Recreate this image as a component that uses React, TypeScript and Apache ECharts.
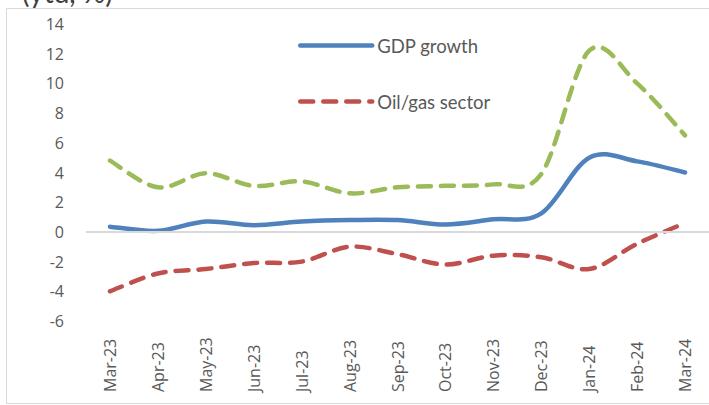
import React, { useEffect, useRef } from "react";
import * as echarts from "echarts";

const categories = ["Mar-23","Apr-23","May-23","Jun-23","Jul-23","Aug-23","Sep-23","Oct-23","Nov-23","Dec-23","Jan-24","Feb-24","Mar-24"];
const gdpGrowth = [0.35, 0.07, 0.7, 0.45, 0.7, 0.8, 0.8, 0.5, 0.85, 1.25, 5.0, 4.75, 4.0];
const oilGas = [-4.0, -2.8, -2.5, -2.1, -2.0, -1.0, -1.5, -2.2, -1.6, -1.7, -2.5, -0.8, 0.6];
const nonOil = [4.8, 3.0, 3.95, 3.1, 3.4, 2.6, 3.0, 3.1, 3.2, 3.9, 12.2, 10.0, 6.5];
const yTicks = { min: -6, max: 14, interval: 2 };

const COLORS = { gdp: "#4F81BD", oil: "#C0504D", nonOil: "#9BBB59" };
const DASH = [13, 10];

// Excel-like smoothed curve (Catmull-Rom through the data points), positioned by the chart's own axes
function smoothSeries(name: string, values: number[], color: string, dashed: boolean) {
  return {
    name: name + " (curve)",
    type: "custom",
    data: values.map((v, i) => [i, v]),
    z: 3,
    silent: true,
    renderItem: (params: any, api: any) => {
      if (params.dataIndex !== 0) return null;
      const pts = values.map((v, i) => api.coord([i, v]));
      let d = `M${pts[0][0]},${pts[0][1]}`;
      for (let i = 0; i < pts.length - 1; i++) {
        const p0 = pts[i - 1] || pts[i];
        const p1 = pts[i];
        const p2 = pts[i + 1];
        const p3 = pts[i + 2] || pts[i + 1];
        const c1x = p1[0] + (p2[0] - p0[0]) / 6;
        const c1y = p1[1] + (p2[1] - p0[1]) / 6;
        const c2x = p2[0] - (p3[0] - p1[0]) / 6;
        const c2y = p2[1] - (p3[1] - p1[1]) / 6;
        d += ` C${c1x},${c1y} ${c2x},${c2y} ${p2[0]},${p2[1]}`;
      }
      return {
        type: "path",
        shape: { pathData: d },
        style: {
          fill: "none",
          stroke: color,
          lineWidth: 4.5,
          lineCap: "round",
          lineJoin: "round",
          lineDash: dashed ? DASH : null,
        },
      };
    },
  };
}

export default function App() {
  const ref = useRef<HTMLDivElement>(null);
  useEffect(() => {
    if (!ref.current) return;
    const chart = echarts.init(ref.current, undefined, { renderer: "svg" });
    const txt = "#595959";
    const legendLine = (name: string, values: number[], color: string, dashed: boolean, extra: any = {}) => ({
      name,
      type: "line",
      data: values,
      symbol: "none",
      silent: true,
      z: 1,
      lineStyle: { color, width: 4.5, opacity: 0, type: dashed ? DASH : "solid", cap: "round" },
      itemStyle: { color },
      ...extra,
    });
    chart.setOption({
      animation: false,
      backgroundColor: "#ffffff",
      grid: { left: 86, top: 24, width: 630, height: 297, containLabel: false },
      legend: {
        data: ["GDP growth", "Oil/gas sector"],
        orient: "vertical",
        left: 298,
        top: 36,
        padding: 0,
        itemWidth: 72,
        itemHeight: 20,
        itemGap: 37,
        itemStyle: { opacity: 0 },
        lineStyle: { width: 4.5, opacity: 1 },
        textStyle: { color: txt, fontSize: 18.5, fontFamily: "Lato" },
      },
      graphic: [
        {
          type: "rect",
          shape: { x: 6.5, y: 8.5, width: 720, height: 395 },
          style: { fill: "none", stroke: "#d9d9d9", lineWidth: 1 },
          silent: true,
        },
        {
          type: "text",
          left: 22,
          top: -22,
          style: { text: "(ytd, %)", fontSize: 28, fontFamily: "Lato", fill: "#404040" },
        },
      ],
      xAxis: {
        type: "category",
        data: categories,
        boundaryGap: true,
        axisLine: { show: false },
        axisTick: { show: false },
        axisLabel: {
          rotate: 90,
          align: "left",
          verticalAlign: "middle",
          margin: 71,
          color: txt,
          fontSize: 16,
          fontFamily: "Open Sans",
          interval: 0,
        },
      },
      yAxis: {
        type: "value",
        min: yTicks.min,
        max: yTicks.max,
        interval: yTicks.interval,
        axisLine: { show: false },
        axisTick: { show: false },
        splitLine: { show: false },
        axisLabel: { color: txt, fontSize: 16, fontFamily: "Open Sans", margin: 22 },
      },
      series: [
        legendLine("GDP growth", gdpGrowth, COLORS.gdp, false, {
          markLine: {
            silent: true,
            symbol: "none",
            label: { show: false },
            lineStyle: { color: "#d9d9d9", width: 2, type: "solid", opacity: 1 },
            data: [{ yAxis: 0 }],
          },
        }),
        legendLine("Oil/gas sector", oilGas, COLORS.oil, true),
        legendLine("Non-oil sector", nonOil, COLORS.nonOil, true),
        smoothSeries("GDP growth", gdpGrowth, COLORS.gdp, false),
        smoothSeries("Oil/gas sector", oilGas, COLORS.oil, true),
        smoothSeries("Non-oil sector", nonOil, COLORS.nonOil, true),
      ],
    });
    return () => chart.dispose();
  }, []);
  return (
    <div
      ref={ref}
      style={{ position: "fixed", left: 0, top: 0, width: 709, height: 405, overflow: "hidden" }}
    />
  );
}
